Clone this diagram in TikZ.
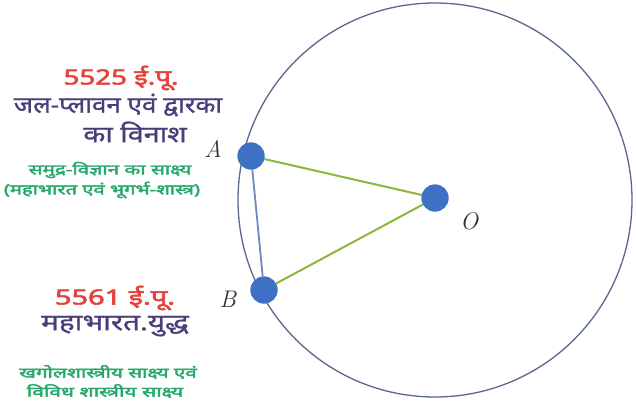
\documentclass[tikz,border=0pt]{standalone}
\usepackage{fontspec}
\newfontfamily\hindi[Script=Devanagari,FakeBold=1]{Noto Sans}
\newfontfamily\hindib[Script=Devanagari,FakeBold=2.5]{Noto Sans}
\definecolor{redt}{HTML}{E4433D}
\definecolor{purt}{HTML}{4B3C7A}
\definecolor{grnt}{HTML}{28A86C}
\definecolor{circ}{HTML}{5A6890}
\definecolor{chord}{HTML}{7088C0}
\definecolor{lime}{HTML}{8CB83A}
\definecolor{dotc}{HTML}{3E70C6}
\tikzset{
  dot/.style={circle,fill=dotc,inner sep=0pt,minimum size=27pt},
  lbl/.style={font=\fontsize{24}{24}\selectfont\itshape,text=black!80},
  yr/.style={font=\hindib\fontsize{21}{22}\selectfont,text=redt,inner sep=0pt},
  ttl/.style={font=\hindi\fontsize{23}{26}\selectfont,text=purt,inner sep=0pt},
  src/.style={font=\hindib\fontsize{14}{15}\selectfont,text=grnt,inner sep=0pt},
}
\begin{document}
\begin{tikzpicture}[x=1pt,y=-1pt]
\useasboundingbox[fill=white] (0,0) rectangle (636,406);
\draw[circ,line width=1.3pt] (435,200) circle (197);
\node[dot] (A) at (251,156) {};
\node[dot] (B) at (264,290) {};
\node[dot] (O) at (435,198) {};
\draw[chord,line width=1.8pt] (A) -- (B);
\draw[lime,line width=2pt] (A) -- (O);
\draw[lime,line width=2pt] (B) -- (O);
\node[dot] at (A) {};
\node[dot] at (B) {};
\node[dot] at (O) {};
\node[lbl] (la) at (213,149) {A};
\node[lbl] (lb) at (228,299) {B};
\node[lbl] (lo) at (469,221) {O};
\node[yr] (y1) at (121,78) {\scalebox{1.32}[1]{5525 ई.पू.}};
\node[ttl] (t1) at (118,105) {\scalebox{1.13}[1]{जल-प्लावन एवं द्वारका}};
\node[ttl] (t2) at (135,132) {\scalebox{1.25}[1]{का विनाश}};
\node[src] (s1) at (110,170) {\scalebox{1.47}[1]{समुद्र-विज्ञान का साक्ष्य}};
\node[src] (s2) at (102,190) {\scalebox{1.44}[1]{(महाभारत एवं भूगर्भ-शास्त्र)}};
\node[yr] (y2) at (115,298) {\scalebox{1.38}[1]{5561 ई.पू.}};
\node[ttl] (t3) at (115,326) {\scalebox{1.29}[1]{महाभारत.युद्ध}};
\node[src] (s3) at (108,372) {\scalebox{1.47}[1]{खगोलशास्त्रीय साक्ष्य एवं}};
\node[src] (s4) at (105,391) {\scalebox{1.5}[1]{विविध शास्त्रीय साक्ष्य}};
\end{tikzpicture}
\end{document}
